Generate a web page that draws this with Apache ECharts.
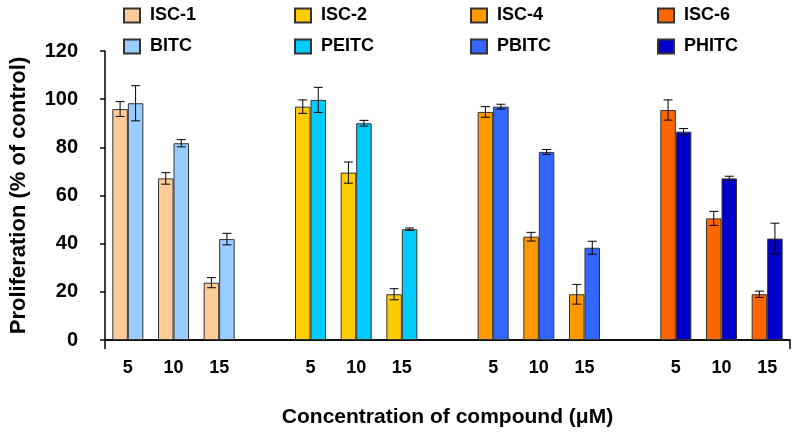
<!DOCTYPE html>
<html>
<head>
<meta charset="utf-8">
<script src="https://cdn.jsdelivr.net/npm/echarts@6/dist/echarts.min.js"></script>
<style>
html,body{margin:0;padding:0;background:#fff;}
#chart{width:800px;height:436px;}
</style>
</head>
<body>
<div id="chart"></div>
<script>
// ---- Data ----
const categories = ['5','10','15','','5','10','15','','5','10','15','','5','10','15'];
const iscNames = ['ISC-1','ISC-2','ISC-4','ISC-6'];
const itcNames = ['BITC','PEITC','PBITC','PHITC'];
// values at 5, 10, 15 µM
const iscValues = [[95.9,67.1,23.8],[96.9,69.5,19.0],[94.7,42.9,19.0],[95.5,50.5,19.0]];
const iscErrors = [[3.1,2.4,2.1],[2.8,4.4,2.3],[2.2,1.8,4.1],[4.2,2.9,1.3]];
const itcValues = [[98.3,81.7,41.9],[99.7,90.0,46.0],[96.9,78.1,38.3],[86.5,67.1,42.1]];
const itcErrors = [[7.3,1.5,2.4],[5.2,1.2,0.5],[1.0,1.0,2.7],[1.3,0.9,6.4]];
const yTicks = [0,20,40,60,80,100,120];

// ---- Styles ----
const iscColors = ['#FFCC99','#FFCC00','#FF9900','#FF6600'];
const itcColors = ['#99CCFF','#00CCFF','#3366FF','#0000CC'];
const FONT = 'Liberation Sans, Arial, sans-serif';
const BAR_W = 15.5;

function slotIndex(g, j){ return g * 4 + j; }

function seriesData(values, g){
  const arr = categories.map(() => null);
  values[g].forEach((v, j) => { arr[slotIndex(g, j)] = v; });
  return arr;
}

const series = [];
for (let g = 0; g < 4; g++) {
  series.push({
    name: iscNames[g], type: 'bar', stack: 'isc', barWidth: BAR_W, barGap: '0%', xAxisIndex: 0,
    data: seriesData(iscValues, g),
    itemStyle: {color: iscColors[g], borderColor: '#333', borderWidth: 1}
  });
  series.push({
    name: itcNames[g], type: 'bar', stack: 'itc', barWidth: BAR_W, barGap: '0%', xAxisIndex: 0,
    data: seriesData(itcValues, g),
    itemStyle: {color: itcColors[g], borderColor: '#333', borderWidth: 1}
  });
}

function errData(values, errors){
  const out = [];
  for (let g = 0; g < 4; g++) for (let j = 0; j < 3; j++)
    out.push([slotIndex(g, j), values[g][j], errors[g][j]]);
  return out;
}

function errRenderer(side){
  return function(params, api){
    const idx = api.value(0), v = api.value(1), e = api.value(2);
    const hi = api.coord([idx, v + e]);
    const lo = api.coord([idx, v - e]);
    const x = hi[0] + side * BAR_W / 2;
    const cap = 4.5;
    const st = {stroke: '#000', lineWidth: 1};
    return {type: 'group', children: [
      {type: 'line', shape: {x1: x, y1: hi[1], x2: x, y2: lo[1]}, style: st},
      {type: 'line', shape: {x1: x - cap, y1: hi[1], x2: x + cap, y2: hi[1]}, style: st},
      {type: 'line', shape: {x1: x - cap, y1: lo[1], x2: x + cap, y2: lo[1]}, style: st}
    ]};
  };
}

series.push({type: 'custom', name: 'errIsc', xAxisIndex: 0, renderItem: errRenderer(-1), data: errData(iscValues, iscErrors), z: 10, encode: {x: 0, y: 1}, silent: true});
series.push({type: 'custom', name: 'errItc', xAxisIndex: 0, renderItem: errRenderer(1), data: errData(itcValues, itcErrors), z: 10, encode: {x: 0, y: 1}, silent: true});

const legendLefts = [123, 294, 470, 657];
const legends = legendLefts.map((l, g) => ({
  orient: 'vertical', left: l, top: 6, padding: 0,
  data: [iscNames[g], itcNames[g]],
  itemWidth: 16, itemHeight: 14, itemGap: 12,
  icon: 'rect', selectedMode: false,
  textStyle: {fontFamily: FONT, fontWeight: 'bold', fontSize: 18, color: '#000', lineHeight: 19, padding: [0,0,0,5]}
}));

const chart = echarts.init(document.getElementById('chart'), null, {renderer: 'canvas'});
chart.setOption({
  animation: false,
  backgroundColor: '#fff',
  legend: legends,
  grid: {left: 104, right: 10, top: 51, bottom: 96, containLabel: false},
  xAxis: [{
    type: 'category', data: categories, boundaryGap: true,
    name: 'Concentration of compound (\u03BCM)', nameLocation: 'middle', nameGap: 67,
    nameTextStyle: {fontFamily: FONT, fontWeight: 'bold', fontSize: 21, color: '#000'},
    axisLine: {lineStyle: {color: '#000', width: 1.5}},
    axisTick: {show: false},
    axisLabel: {interval: 0, margin: 19, fontFamily: FONT, fontWeight: 'bold', fontSize: 18, color: '#000'},
    splitLine: {show: false}
  }, {
    // frame axis: only supplies the two end ticks of the bottom axis
    type: 'value', position: 'bottom', min: 0, max: 1, interval: 1,
    axisLine: {show: true, lineStyle: {color: '#000', width: 1.5}},
    axisTick: {show: true, length: 9, lineStyle: {color: '#000', width: 1.5}},
    axisLabel: {show: false}, splitLine: {show: false}
  }],
  yAxis: {
    type: 'value', min: 0, max: 120, interval: 20,
    name: 'Proliferation (% of control)', nameLocation: 'middle', nameGap: 75, nameRotate: 90,
    nameTextStyle: {fontFamily: FONT, fontWeight: 'bold', fontSize: 22, color: '#000'},
    axisLine: {show: true, lineStyle: {color: '#000', width: 1.5}},
    axisTick: {show: true, length: 5, lineStyle: {color: '#000', width: 1.5}},
    axisLabel: {margin: 27, fontFamily: FONT, fontWeight: 'bold', fontSize: 20, color: '#000',
      formatter: (v) => yTicks.includes(v) ? String(v) : ''},
    splitLine: {show: false}
  },
  series: series
});
</script>
</body>
</html>
